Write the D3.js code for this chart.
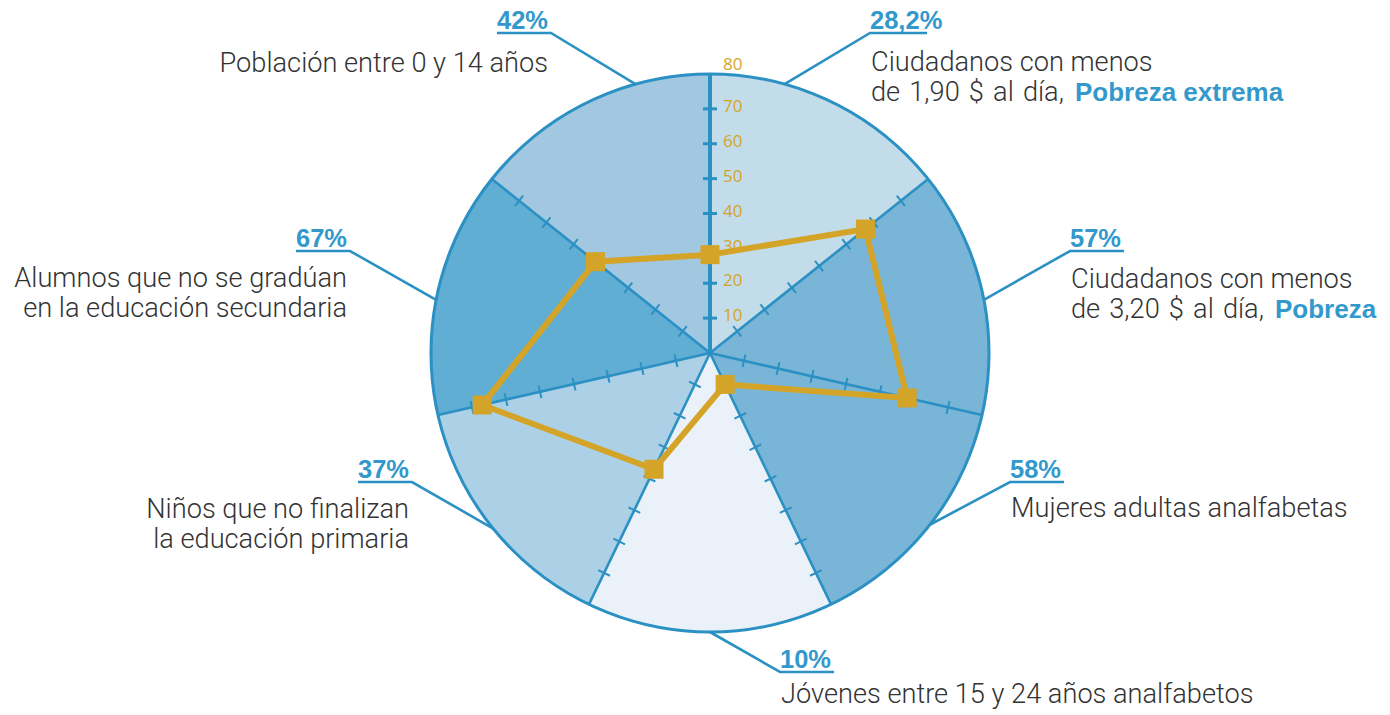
<!DOCTYPE html>
<html><head><meta charset="utf-8">
<script src="https://cdn.jsdelivr.net/npm/d3@7"></script>
<style>body{margin:0;background:#fff}</style>
</head><body><svg id="chart" width="1390" height="715"></svg>
<script>
// ---- data ----
const values = [28.2, 57, 58, 10, 37, 67, 42];
const valueLabels = ["28,2%", "57%", "58%", "10%", "37%", "67%", "42%"];
const categoryLines = [
  ["Ciudadanos con menos", "de 1,90 $ al día, "],
  ["Ciudadanos con menos", "de 3,20 $ al día, "],
  ["Mujeres adultas analfabetas"],
  ["Jóvenes entre 15 y 24 años analfabetos"],
  ["Niños que no finalizan", "la educación primaria"],
  ["Alumnos que no se gradúan", "en la educación secundaria"],
  ["Población entre 0 y 14 años"]
];
const highlights = ["Pobreza extrema", "Pobreza", "", "", "", "", ""];
const tickValues = [10, 20, 30, 40, 50, 60, 70, 80];
const maxValue = 80;

// ---- style / layout ----
const wedgeColors = ["#c3dcea", "#78b5d6", "#78b5d6", "#ebf1f8", "#acd0e5", "#60aed3", "#a1c8e0"];
const labelLayout = [
  {angle: 15.5,  ex: 870, ey: 33,  side: 1,  dy: 38},
  {angle: 79,    ex: 1070, ey: 251, side: 1, dy: 37},
  {angle: 128,   ex: 1010, ey: 482, side: 1, dy: 35},
  {angle: 180,   ex: 780, ey: 672, side: 1,  dy: 31},
  {angle: 231,   ex: 412, ey: 482, side: -1, dy: 36},
  {angle: 281,   ex: 350, ey: 251, side: -1, dy: 36},
  {angle: 344.5, ex: 551, ey: 33,  side: -1, dy: 39}
];
const BLUE = "#2b90c3", TEXTBLUE = "#3399cc", GOLD = "#d4a429", GRAY = "#333333";
const cx = 710, cy = 353, R = 279;

const svg = d3.select("#chart");
const g = svg.append("g").attr("transform", `translate(${cx},${cy})`);
const n = values.length;
const r = d3.scaleLinear().domain([0, maxValue]).range([0, R]);
const ang = d3.scaleLinear().domain([0, n]).range([0, 2 * Math.PI]);

// wedges
const arc = d3.arc().innerRadius(0).outerRadius(r(maxValue));
g.selectAll("path.wedge").data(values).join("path")
  .attr("class", "wedge")
  .attr("d", (d, i) => arc({startAngle: ang(i), endAngle: ang(i + 1)}))
  .attr("fill", (d, i) => wedgeColors[i]);

// outer circle
g.append("circle").attr("r", r(maxValue)).attr("fill", "none")
  .attr("stroke", BLUE).attr("stroke-width", 3);

// axes
g.selectAll("line.axis").data(values).join("line")
  .attr("class", "axis")
  .attr("x1", 0).attr("y1", 0)
  .attr("x2", (d, i) => d3.pointRadial(ang(i), r(maxValue))[0])
  .attr("y2", (d, i) => d3.pointRadial(ang(i), r(maxValue))[1])
  .attr("stroke", BLUE).attr("stroke-width", (d, i) => i === 0 ? 4 : 2.6);

// ticks
const tickData = [];
values.forEach((v, i) => tickValues.filter(t => t < maxValue).forEach(t => tickData.push({i, t})));
g.selectAll("line.tick").data(tickData).join("line")
  .attr("class", "tick")
  .each(function(d) {
    const a = ang(d.i);
    const [px, py] = d3.pointRadial(a, r(d.t));
    const half = d.i === 0 ? 7 : 6.5;
    const ux = Math.cos(a), uy = Math.sin(a);
    d3.select(this).attr("x1", px - ux * half).attr("y1", py - uy * half)
      .attr("x2", px + ux * half).attr("y2", py + uy * half);
  })
  .attr("stroke", BLUE).attr("stroke-width", d => d.i === 0 ? 3 : 2);

// polygon
const radialLine = d3.lineRadial()
  .angle((d, i) => ang(i)).radius(d => r(d)).curve(d3.curveLinearClosed);
g.append("path").attr("d", radialLine(values))
  .attr("fill", "none").attr("stroke", GOLD).attr("stroke-width", 6)
  .attr("stroke-linejoin", "miter");

// markers
const ms = 19;
g.selectAll("rect.marker").data(values).join("rect")
  .attr("class", "marker")
  .attr("x", (d, i) => d3.pointRadial(ang(i), r(d))[0] - ms / 2)
  .attr("y", (d, i) => d3.pointRadial(ang(i), r(d))[1] - ms / 2)
  .attr("width", ms).attr("height", ms).attr("fill", GOLD);

// tick labels on the vertical axis
g.selectAll("text.tl").data(tickValues).join("text")
  .attr("class", "tl")
  .attr("x", 13)
  .attr("y", d => -r(d) + (d === maxValue ? -10 : -3))
  .attr("dy", "0.36em")
  .attr("font-family", "'Open Sans', sans-serif")
  .attr("font-size", 17)
  .attr("fill", GOLD)
  .text(d => d);

// labels
const lab = svg.append("g");
values.forEach((v, i) => {
  const L = labelLayout[i];
  const [ax, ay] = d3.pointRadial(L.angle * Math.PI / 180, r(maxValue));
  const pct = lab.append("text")
    .attr("font-family", "'Liberation Sans', Arial, sans-serif")
    .attr("font-weight", "bold").attr("font-size", 25.5)
    .attr("fill", TEXTBLUE).text(valueLabels[i]);
  const tw = pct.node().getComputedTextLength();
  const ulen = Math.min(tw + 3, 57);
  const uStart = L.side === 1 ? L.ex : L.ex - ulen;
  pct.attr("x", uStart).attr("y", L.ey - 4.5);
  lab.append("path")
    .attr("d", `M${cx + ax},${cy + ay}L${L.ex},${L.ey}L${L.ex + L.side * ulen},${L.ey}`)
    .attr("fill", "none").attr("stroke", BLUE).attr("stroke-width", 2.6);
  const lines = categoryLines[i];
  const t = lab.append("text")
    .attr("font-family", "Roboto, sans-serif").attr("font-weight", 300)
    .attr("font-size", 27.2).attr("fill", GRAY)
    .attr("text-anchor", L.side === 1 ? "start" : "end");
  lines.forEach((ln, k) => {
    const isLast = k === lines.length - 1 && highlights[i];
    t.append("tspan")
      .attr("x", L.side === 1 ? L.ex + 1 : L.ex - 3)
      .attr("y", L.ey + L.dy + k * 29.5)
      .attr("word-spacing", isLast ? 2.5 : 0)
      .text(ln);
    if (isLast) {
      t.append("tspan").attr("font-family", "'Liberation Sans', Arial, sans-serif")
        .attr("font-weight", "bold").attr("fill", TEXTBLUE).attr("font-size", 26)
        .attr("dx", 2)
        .text(highlights[i]);
    }
  });
});
</script>
</body></html>
